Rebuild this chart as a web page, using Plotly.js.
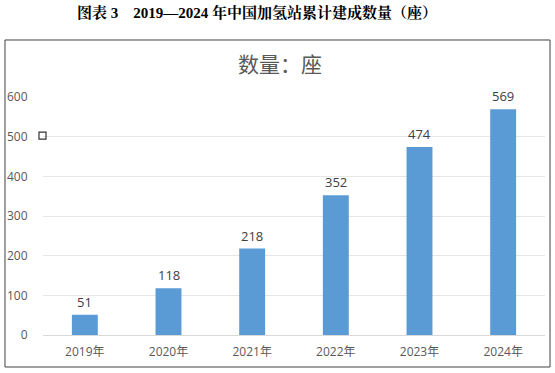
<!DOCTYPE html>
<html><head><meta charset="utf-8">
<script src="https://cdn.plot.ly/plotly-3.0.1.min.js"></script>
<style>html,body{margin:0;padding:0;background:#fff;}#chart{width:555px;height:373px;}</style>
</head><body><div id="chart"></div>
<script>
const categories = ["2019年","2020年","2021年","2022年","2023年","2024年"];
const counts = [51,118,218,352,474,569];
const yTicks = [0,100,200,300,400,500,600];

const sans = "Open Sans, Noto Sans CJK SC, sans-serif";
const trace = {
  type: "bar", x: categories, y: counts,
  marker: {color: "#5B9BD5"}, width: 0.31, hoverinfo: "none"
};
const labels = categories.map((c,i)=>({
  x: c, y: counts[i], text: String(counts[i]), showarrow: false,
  yanchor: "bottom", yshift: 2, font: {family: sans, size: 13, color: "#404040"}
}));
labels.push({xref:"paper", yref:"paper", x:0.472, y:1.143, text:"数量：座", showarrow:false,
  xanchor:"center", yanchor:"middle", font:{family:"Noto Sans CJK SC, sans-serif", size:21, color:"#595959"}});
const layout = {
  width: 555, height: 373,
  margin: {l: 43, r: 10, t: 97, b: 38},
  paper_bgcolor: "#fff", plot_bgcolor: "#fff",
  showlegend: false,
  title: {text: "<b>图表 3　2019—2024 年中国加氢站累计建成数量（座）</b>", x: 0.463, xanchor: "center",
    y: 0.965, yanchor: "middle",
    font: {family: "Liberation Serif, Noto Serif CJK SC, Noto Sans CJK SC, serif", size: 15, color: "#000"}},
  xaxis: {type: "category", showgrid: false, showline: true, linecolor: "#d9d9d9", linewidth: 1,
    ticks: "outside", ticklen: 6, tickcolor: "rgba(0,0,0,0)",
    tickfont: {family: sans, size: 12, color: "#595959"}, fixedrange: true},
  yaxis: {range: [0, 600], tickvals: yTicks, showgrid: true, gridcolor: "#e6e6e6", gridwidth: 1,
    zeroline: false, showline: false, ticks: "outside", ticklen: 12, tickcolor: "rgba(0,0,0,0)",
    tickfont: {family: sans, size: 12, color: "#595959"}, fixedrange: true},
  annotations: labels,
  shapes: [
    {type: "rect", xref: "paper", yref: "paper", x0: -0.0757, x1: 1.01, y0: -0.1345, y1: 1.2395,
      line: {color: "#404040", width: 1}, fillcolor: "rgba(0,0,0,0)", layer: "above"},
    {type: "rect", xref: "paper", yref: "paper", x0: -0.0080, x1: 0.0060, y0: 0.8230, y1: 0.8520,
      line: {color: "#333", width: 1.2}, fillcolor: "rgba(0,0,0,0)", layer: "above"}
  ]
};
Plotly.newPlot("chart", [trace], layout, {staticPlot: true, displayModeBar: false});
</script></body></html>
